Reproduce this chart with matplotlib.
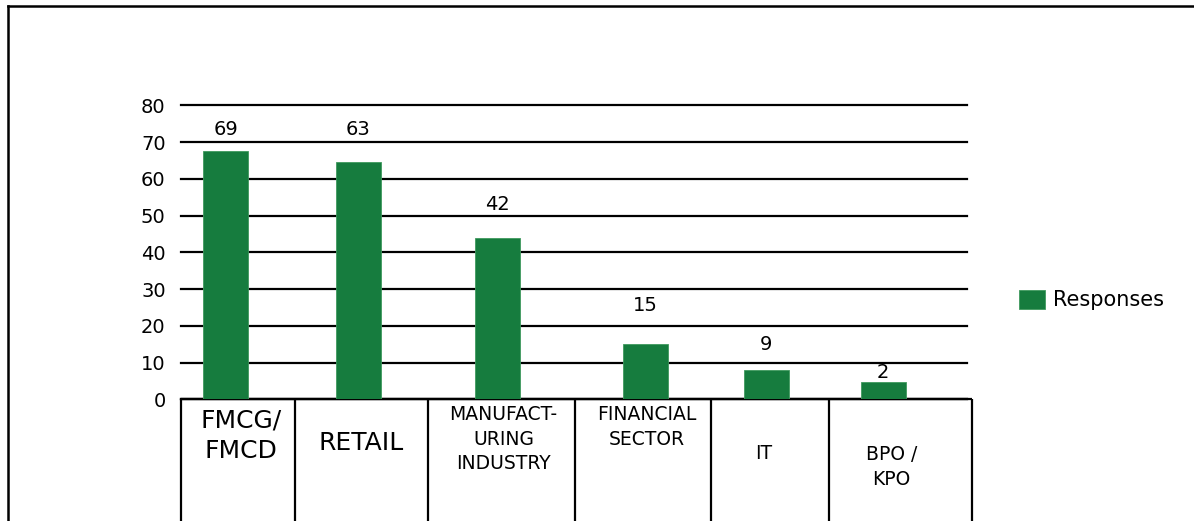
import numpy as np
import matplotlib
matplotlib.use('Agg')
import matplotlib.pyplot as plt
from matplotlib.lines import Line2D

# data
categories = ['FMCG/\nFMCD', 'RETAIL', 'MANUFACT-\nURING\nINDUSTRY', 'FINANCIAL\nSECTOR', 'IT', 'BPO /\nKPO']
bar_values = [67.5, 64.5, 43.9, 15.0, 7.9, 4.8]
value_labels = ['69', '63', '42', '15', '9', '2']
y_ticks = [0, 10, 20, 30, 40, 50, 60, 70, 80]
series_name = 'Responses'

# layout (axis units, 0..6 across the plot)
bar_x = [0.341, 1.352, 2.416, 3.544, 4.469, 5.362]
col_edges = [0, 0.871, 1.886, 3.009, 4.047, 4.948, 6.04]
label_y = [73.3, 73.3, 53, 25.4, 14.8, 7.3]
cat_size = [18, 18, 13.5, 13.5, 13.5, 13.5]
cat_top = [9, 32, 6, 6, 45, 46]       # px below axis line
cat_dx = [3, 0, 2, 4, -6, -9]

green = '#167c3e'

fig = plt.figure(figsize=(11.94, 5.21), dpi=100)
ax = fig.add_axes([181/1194, (521-399.3)/521, 785.7/1194, 294/521])

ax.bar(bar_x, bar_values, width=0.344, color=green, edgecolor='#3f9a5e',
       linewidth=0.6, label=series_name, zorder=3)

for x, y, t in zip(bar_x, label_y, value_labels):
    ax.text(x, y, t, ha='center', va='center', fontsize=14, zorder=4)

ax.set_xlim(0, 6)
ax.set_ylim(0, 80)
ax.set_yticks(y_ticks)
ax.set_xticks([])
ax.tick_params(axis='y', length=0, pad=11, labelsize=14)
ax.yaxis.grid(True, color='black', linewidth=1.6)
for gl in ax.get_ygridlines():
    gl.set_clip_on(False)
ax.set_axisbelow(True)
for s in ['top', 'right', 'left']:
    ax.spines[s].set_visible(False)
ax.spines['bottom'].set_linewidth(1.6)

# table under the axis
ax.vlines(col_edges, -40, 0, colors='black', linewidth=1.6, clip_on=False)
ax.hlines(0, col_edges[0], col_edges[-1], colors='black', linewidth=1.6, clip_on=False)
for i, c in enumerate(categories):
    xc = (col_edges[i] + col_edges[i+1]) / 2
    ax.annotate(c, xy=(xc, 0), xytext=(cat_dx[i], -cat_top[i]), textcoords='offset pixels',
                ha='center', va='top', fontsize=cat_size[i], linespacing=1.35,
                annotation_clip=False)

leg = ax.legend(loc='center left', bbox_to_anchor=(1019/1194, (521-300)/521),
                bbox_transform=fig.transFigure, frameon=False, fontsize=15,
                handlelength=1.25, handleheight=1.06, handletextpad=0.4,
                borderpad=0, borderaxespad=0)

# outer frame
fig.add_artist(Line2D([7.5/1194, 1], [1-6/521, 1-6/521], color='black', linewidth=1.8, transform=fig.transFigure))
fig.add_artist(Line2D([7.5/1194, 7.5/1194], [0, 1-6/521], color='black', linewidth=1.8, transform=fig.transFigure))

fig.savefig('out.png', dpi=100)
